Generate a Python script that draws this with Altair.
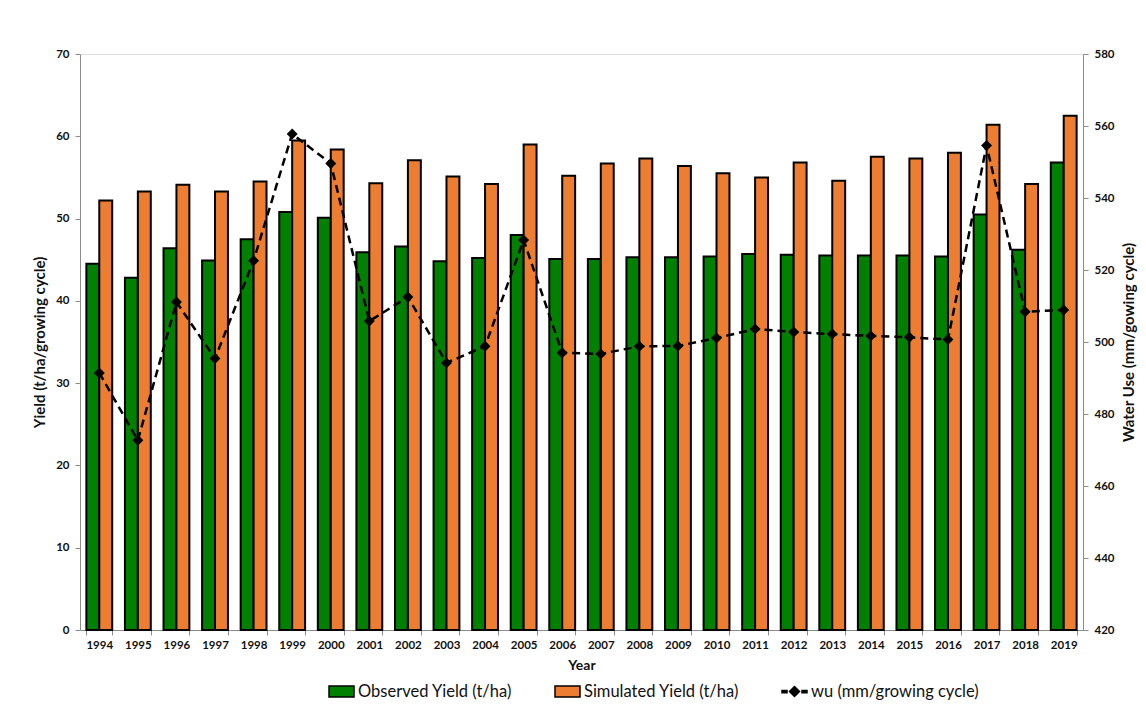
import altair as alt
import pandas as pd

years = [str(y) for y in range(1994, 2020)]
observed = [44.5, 42.8, 46.4, 44.9, 47.5, 50.8, 50.1, 45.9, 46.6, 44.8, 45.2, 48.0, 45.1,
            45.1, 45.3, 45.3, 45.4, 45.7, 45.6, 45.5, 45.5, 45.5, 45.4, 50.5, 46.2, 56.8]
simulated = [52.2, 53.3, 54.1, 53.3, 54.5, 59.5, 58.4, 54.3, 57.1, 55.1, 54.2, 59.0, 55.2,
             56.7, 57.3, 56.4, 55.5, 55.0, 56.8, 54.6, 57.5, 57.3, 58.0, 61.4, 54.2, 62.5]
wu = [491.4, 472.7, 511.1, 495.4, 522.6, 557.8, 549.6, 505.8, 512.5, 494.2, 498.8, 528.3, 497.0,
      496.7, 498.8, 498.9, 501.1, 503.6, 502.8, 502.2, 501.7, 501.3, 500.7, 554.6, 508.4, 508.9]
series_names = ["Observed Yield (t/ha)", "Simulated Yield (t/ha)", "wu (mm/growing cycle)"]
series_colors = ["#008000", "#ED7D31", "#000000"]
yield_ticks = [0, 10, 20, 30, 40, 50, 60, 70]
wu_ticks = [420, 440, 460, 480, 500, 520, 540, 560, 580]

bars_df = pd.DataFrame({
    "Year": years * 2,
    "series": [series_names[0]] * len(years) + [series_names[1]] * len(years),
    "value": observed + simulated,
})
wu_df = pd.DataFrame({"Year": years, "wu": wu})
legend_df = pd.DataFrame({"series": series_names})

FONT = "Lato"
GRAY = "#8c8c8c"
TXT = "#111"

x_enc = alt.X("Year:O", sort=years,
              scale=alt.Scale(paddingInner=0.33, paddingOuter=0.165),
              axis=alt.Axis(title="Year", labelAngle=0, tickBand="extent",
                            domainColor=GRAY, tickColor=GRAY, tickSize=5,
                            labelFont=FONT, labelFontWeight="bold", labelFontSize=11.5,
                            labelColor=TXT, labelPadding=4,
                            titleFont=FONT, titleFontWeight="bold", titleFontSize=14,
                            titleColor=TXT, titlePadding=8))

y_yield = alt.Y("value:Q", scale=alt.Scale(domain=[0, 70], nice=False),
                axis=alt.Axis(values=yield_ticks, title="Yield  (t/ha/growing cycle)", grid=False,
                              domainColor=GRAY, tickColor=GRAY, tickSize=5,
                              labelFont=FONT, labelFontWeight="bold", labelFontSize=11.5,
                              labelColor=TXT, labelPadding=6,
                              titleFont=FONT, titleFontWeight="bold", titleFontSize=15,
                              titleColor=TXT, titlePadding=8))
x_off = alt.XOffset("series:N", scale=alt.Scale(domain=series_names[:2]))

bars_obs = alt.Chart(bars_df).transform_filter(
    alt.datum.series == series_names[0]
).mark_bar(color=series_colors[0], stroke="black", strokeWidth=2).encode(
    x=x_enc, xOffset=x_off, y=y_yield)
bars_sim = alt.Chart(bars_df).transform_filter(
    alt.datum.series == series_names[1]
).mark_bar(color=series_colors[1], stroke="black", strokeWidth=2).encode(
    x=x_enc, xOffset=x_off, y=y_yield)

wu_y = alt.Y("wu:Q", scale=alt.Scale(domain=[420, 580], nice=False),
             axis=alt.Axis(values=wu_ticks, orient="right", title="Water Use (mm/gowing cycle)",
                           grid=False, domainColor=GRAY, tickColor=GRAY, tickSize=5,
                           labelFont=FONT, labelFontWeight="bold", labelFontSize=11.5,
                           labelColor=TXT, labelPadding=6,
                           titleFont=FONT, titleFontWeight="bold", titleFontSize=15,
                           titleColor=TXT, titleAngle=270, titleBaseline="middle",
                           titleX=45))

line = alt.Chart(wu_df).mark_line(color="black", strokeWidth=2.5, strokeDash=[8, 5]).encode(
    x=alt.X("Year:O", sort=years), y=wu_y)
pts = alt.Chart(wu_df).mark_point(shape="diamond", filled=True, color="black", size=120,
                                  opacity=1).encode(x=alt.X("Year:O", sort=years), y=wu_y)

rect_path = "M-1,-0.44H1V0.44H-1Z"
wu_path = ("M-1,-0.09H-0.6V0.09H-1Z M-0.4,0L0,-0.4L0.4,0L0,0.4Z M0.6,-0.09H1V0.09H0.6Z")

# legend-only layer: no rows are drawn, the explicit scale domains build the legend
legend_layer = alt.Chart(legend_df).transform_filter(
    alt.datum.series == "__none__"
).mark_point(filled=True, opacity=1, stroke="black", strokeWidth=1.5).encode(
    color=alt.Color("series:N", scale=alt.Scale(domain=series_names, range=series_colors),
                    legend=alt.Legend(title=None, orient="none", legendX=248, legendY=624,
                                      direction="horizontal", symbolSize=625,
                                      symbolStrokeColor="black", symbolStrokeWidth=1.5,
                                      symbolOpacity=1,
                                      labelFont=FONT, labelFontSize=16.5, labelColor=TXT,
                                      labelOffset=3, columnPadding=40, labelLimit=400)),
    shape=alt.Shape("series:N", scale=alt.Scale(domain=series_names,
                                                range=[rect_path, rect_path, wu_path])),
)

chart = alt.layer(
    alt.layer(bars_obs, bars_sim, legend_layer),
    alt.layer(line, pts),
).resolve_scale(y="independent").properties(
    width=1003, height=576,
    autosize=alt.AutoSizeParams(type="none"),
    padding={"left": 72, "top": 46, "right": 55, "bottom": 80},
).configure_view(stroke=GRAY, strokeWidth=1).configure(background="white")

chart.save("out.html", embed_options={"renderer": "svg", "actions": False})
